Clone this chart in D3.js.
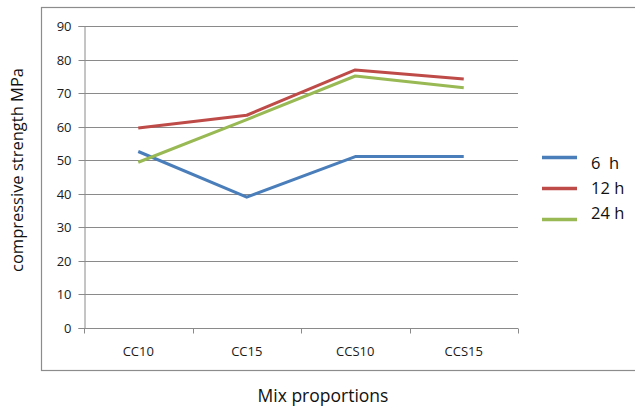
<!DOCTYPE html>
<html>
<head>
<meta charset="utf-8">
<script src="https://cdn.jsdelivr.net/npm/d3@7/dist/d3.min.js"></script>
<style>
  html, body { margin: 0; padding: 0; background: #fff; }
  svg { display: block; font-family: "Open Sans", "DejaVu Sans", sans-serif; }
</style>
</head>
<body>
<svg id="chart" width="635" height="408"></svg>
<script>
// Mix proportions on the x axis
const categories = ["CC10", "CC15", "CCS10", "CCS15"];
// Compressive strength (MPa) after each curing time
const series6h  = [52.6, 39.0, 51.1, 51.1];
const series12h = [59.6, 63.4, 76.9, 74.2];
const series24h = [49.4, 62.1, 75.1, 71.6];
const seriesNames = ["6  h", "12 h", "24 h"];
const yTicks = [0, 10, 20, 30, 40, 50, 60, 70, 80, 90];

const seriesColors = ["#4A7EBB", "#BE4B48", "#98B954"];
const allSeries = [series6h, series12h, series24h];

const svg = d3.select("#chart");

// Outer chart frame
svg.append("rect")
  .attr("x", 41.5).attr("y", 7.5)
  .attr("width", 600).attr("height", 363)
  .attr("fill", "none").attr("stroke", "#8c8c8c").attr("stroke-width", 1.2);

const plot = { left: 84, right: 518, top: 26, bottom: 328 };

const x = d3.scaleBand().domain(categories).range([plot.left, plot.right]);
const y = d3.scaleLinear().domain([0, 90]).range([plot.bottom, plot.top]);

// Horizontal gridlines
svg.append("g")
  .selectAll("line")
  .data(yTicks.filter(d => d > 0))
  .join("line")
  .attr("x1", plot.left).attr("x2", plot.right)
  .attr("y1", d => Math.round(y(d)) + 0.5).attr("y2", d => Math.round(y(d)) + 0.5)
  .attr("stroke", "#8a8a8a").attr("stroke-width", 1);

// Y axis
const yAxis = svg.append("g")
  .attr("transform", `translate(${plot.left + 0.5},0)`)
  .call(d3.axisLeft(y).tickValues(yTicks).tickSize(6).tickPadding(7).tickFormat(d3.format("d")));
yAxis.select(".domain").attr("stroke", "#8a8a8a");
yAxis.selectAll(".tick line").attr("stroke", "#8a8a8a");
yAxis.selectAll(".tick").attr("transform", d => `translate(0,${Math.round(y(d)) + 0.5})`);
yAxis.selectAll("text")
  .attr("font-size", 13).attr("fill", "#1a1a1a")
  .attr("font-family", "\"Open Sans\", \"DejaVu Sans\", sans-serif");

// X axis with ticks at band boundaries
const xAxisG = svg.append("g")
  .attr("transform", `translate(0,${Math.round(y(0)) + 0.5})`);
xAxisG.append("line")
  .attr("x1", plot.left).attr("x2", plot.right)
  .attr("stroke", "#8a8a8a");
const boundaries = categories.map(c => x(c)).concat([x(categories[categories.length - 1]) + x.bandwidth()]);
xAxisG.selectAll("line.tk")
  .data(boundaries)
  .join("line")
  .attr("class", "tk")
  .attr("x1", d => Math.round(d) + 0.5).attr("x2", d => Math.round(d) + 0.5)
  .attr("y1", 0).attr("y2", 5)
  .attr("stroke", "#8a8a8a");
xAxisG.selectAll("text")
  .data(categories)
  .join("text")
  .attr("x", d => x(d) + x.bandwidth() / 2)
  .attr("y", 27)
  .attr("text-anchor", "middle")
  .attr("font-size", 13).attr("fill", "#1a1a1a")
  .text(d => d);

// Series lines
const line = d3.line()
  .x((d, i) => x(categories[i]) + x.bandwidth() / 2)
  .y(d => y(d));

svg.append("g")
  .selectAll("path")
  .data(allSeries)
  .join("path")
  .attr("d", d => line(d))
  .attr("fill", "none")
  .attr("stroke", (d, i) => seriesColors[i])
  .attr("stroke-width", 3)
  .attr("stroke-linejoin", "round")
  .attr("stroke-linecap", "butt");

// Axis titles
svg.append("text")
  .attr("transform", "translate(23,170) rotate(-90)")
  .attr("text-anchor", "middle")
  .attr("font-size", 16.5).attr("fill", "#111")
  .text("compressive strength MPa");

svg.append("text")
  .attr("x", 323).attr("y", 402)
  .attr("text-anchor", "middle")
  .attr("font-size", 17.5).attr("fill", "#111")
  .text("Mix proportions");

// Legend
const legend = svg.append("g");
seriesNames.forEach((name, i) => {
  const ly = 157.5 + i * 31;
  legend.append("line")
    .attr("x1", 542).attr("x2", 577)
    .attr("y1", ly).attr("y2", ly)
    .attr("stroke", seriesColors[i]).attr("stroke-width", 3.5);
  legend.append("text")
    .attr("x", 591).attr("y", 163 + i * 25)
    .attr("dy", "0.35em")
    .attr("font-size", 16.5).attr("fill", "#111")
    .style("white-space", "pre")
    .text(name);
});
</script>
</body>
</html>
